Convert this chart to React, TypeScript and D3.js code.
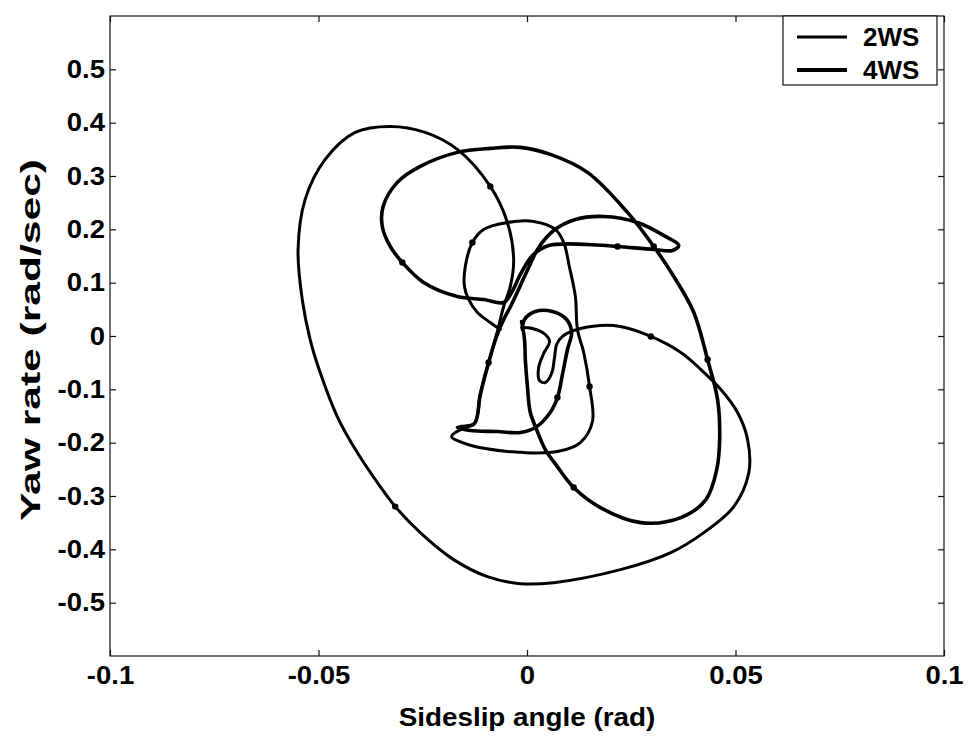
import React, { useEffect, useRef } from 'react';
import * as d3 from 'd3';

// sideslip angle (rad) / yaw rate (rad/sec)
const beta2WS = [
  -0.0013, 0.0013, 0.0044, 0.0054, 0.004, 0.0028, 0.003, 0.0044, 0.0059, 0.0066,
  0.0071, 0.0085, 0.0112,
  0.0176, 0.0224, 0.0297, 0.0369, 0.0417, 0.0465, 0.0505, 0.0529, 0.0532, 0.0496,
  0.0424, 0.0345, 0.0224, 0.0064, -0.0016, -0.0095, -0.0176, -0.0256, -0.0316, -0.0352,
  -0.0407, -0.0455, -0.0496, -0.052, -0.0539, -0.0549, -0.0532, -0.0484, -0.0412, -0.0328,
  -0.0244, -0.0167, -0.0088, -0.0047, -0.0032, -0.004, -0.0056, -0.0073, -0.0092, -0.0112,
  -0.0126, -0.0155, -0.0181, -0.0148, -0.01, -0.0008, 0.0073, 0.0128, 0.0157, 0.015,
  0.0136, 0.0121, 0.0116, 0.0102, 0.0088, 0.0068, 0.0016, -0.0047, -0.0104, -0.0131,
  -0.0148, -0.015, -0.014, -0.0119, -0.0088, -0.0064
];
const yaw2WS = [
  0.0159, 0.0141, 0.0028, -0.0103, -0.0328, -0.0591, -0.0835, -0.0872, -0.0704, -0.0403,
  -0.0159, -0.0009, 0.0103,
  0.0197, 0.0178, -0.0009, -0.031, -0.0629, -0.1004, -0.1435, -0.1942, -0.2561, -0.3199,
  -0.3687, -0.4062, -0.4381, -0.4625, -0.4644, -0.4512, -0.4193, -0.3687, -0.3199, -0.2824,
  -0.2186, -0.151, -0.0685, -0.0066, 0.0685, 0.1623, 0.2561, 0.3311, 0.3818, 0.393,
  0.3818, 0.3499, 0.2805, 0.2129, 0.1435, 0.0929, 0.0553, 0.0028, -0.0497, -0.1097,
  -0.1642, -0.1735, -0.1886, -0.2017, -0.2111, -0.2186, -0.2167, -0.1998, -0.1604, -0.0947,
  -0.031, 0.0122, 0.0741, 0.1285, 0.1754, 0.1998, 0.2148, 0.2129, 0.1998, 0.1754,
  0.1304, 0.0929, 0.0685, 0.0441, 0.0253, 0.0122
];
// samples of 2WS that carry the small direction markers
const marks2WS = [15, 31, 45, 51, 62, 72];

const beta4WS = [
  -0.0013, -0.0006, -0.0004, 0.0001, 0.0008, 0.0025, 0.0044, 0.0071, 0.0112, 0.0176,
  0.0273, 0.0369, 0.0429, 0.0455, 0.0462, 0.0457, 0.0433, 0.04, 0.0352, 0.0304,
  0.0241, 0.0145, 0.0056, -0.0016, -0.0088, -0.0167, -0.0256, -0.0311, -0.0345, -0.0347,
  -0.0328, -0.0299, -0.0248, -0.0167, -0.0104, -0.0056, -0.0037, -0.0016, 0.0013, 0.0052,
  0.0145, 0.0217, 0.0304, 0.0349, 0.0364, 0.0332, 0.0265, 0.0184, 0.0116, 0.0064,
  0.0028, 0.0004, -0.0018, -0.0037, -0.0056, -0.0073, -0.0092, -0.0112, -0.0126, -0.0157,
  -0.0167, -0.0136, -0.0071, -0.0016, 0.002, 0.0054, 0.0073, 0.0085, 0.0097, 0.0107,
  0.0095, 0.0061, 0.002, -0.0006, -0.0011
];
const yaw4WS = [
  0.0272, -0.0066, -0.0441, -0.0947, -0.1435, -0.1792, -0.2129, -0.243, -0.2842, -0.3218,
  -0.3499, -0.3405, -0.3068, -0.2505, -0.1942, -0.1191, -0.0441, 0.0441, 0.1116, 0.1679,
  0.2317, 0.3068, 0.3405, 0.3537, 0.3518, 0.3443, 0.318, 0.288, 0.243, 0.2054,
  0.1679, 0.1379, 0.1004, 0.0741, 0.0685, 0.0629, 0.0816, 0.1154, 0.151, 0.1698,
  0.1717, 0.1679, 0.1623, 0.1604, 0.1698, 0.1867, 0.2129, 0.2242, 0.2186, 0.1979,
  0.166, 0.1285, 0.091, 0.0591, 0.031, -0.0009, -0.0497, -0.1097, -0.1642, -0.1698,
  -0.1717, -0.1773, -0.1792, -0.1811, -0.1717, -0.1454, -0.1154, -0.0722, -0.0253, 0.0066,
  0.031, 0.046, 0.046, 0.031, 0.0122
];
const marks4WS = [8, 16, 19, 31, 41, 66];

const betaTicks = [-0.1, -0.05, 0, 0.05, 0.1];
const yawTicks = [-0.5, -0.4, -0.3, -0.2, -0.1, 0, 0.1, 0.2, 0.3, 0.4, 0.5];
const seriesNames = ['2WS', '4WS'];

const FONT = '"Liberation Sans", Arial, Helvetica, sans-serif';

// the scan is a bit wider than the font, stretch the glyphs to suit
function stretch(sel: any, k: number) {
  sel.each(function (this: SVGTextElement) {
    const len = this.getComputedTextLength();
    d3.select(this).attr('textLength', len * k).attr('lengthAdjust', 'spacingAndGlyphs');
  });
}

export default function App() {
  const ref = useRef<SVGSVGElement>(null);

  useEffect(() => {
    const svg = d3.select(ref.current);
    svg.selectAll('*').remove();

    const margin = { top: 16, right: 29, bottom: 81, left: 110 };
    const width = 973 - margin.left - margin.right;
    const height = 737 - margin.top - margin.bottom;

    const g = svg.append('g').attr('transform', `translate(${margin.left},${margin.top})`);

    const x = d3.scaleLinear().domain([-0.1, 0.1]).range([0, width]);
    const y = d3.scaleLinear().domain([-0.6, 0.6]).range([height, 0]);

    // axes, matlab style: ticks pointing inwards on all four sides
    const styleAxis = (sel: any) => {
      sel.select('.domain').remove();
      sel.selectAll('line').attr('stroke', '#111').attr('stroke-width', 1.2);
      sel.selectAll('text').attr('fill', '#000')
        .style('font-family', FONT).style('font-size', '25px').style('font-weight', 'bold')
        .call(stretch, 1.1);
    };
    g.append('g').attr('transform', `translate(0,${height})`)
      .call(d3.axisBottom(x).tickValues(betaTicks).tickSizeInner(-6).tickSizeOuter(0).tickPadding(10).tickFormat((d: any) => String(d)))
      .call(styleAxis);
    g.append('g')
      .call(d3.axisTop(x).tickValues(betaTicks).tickSizeInner(-6).tickSizeOuter(0).tickFormat(() => ''))
      .call(styleAxis);
    g.append('g')
      .call(d3.axisLeft(y).tickValues(yawTicks).tickSizeInner(-6).tickSizeOuter(0).tickPadding(5).tickFormat((d: any) => String(d)))
      .call(styleAxis);
    g.append('g').attr('transform', `translate(${width},0)`)
      .call(d3.axisRight(y).tickValues(yawTicks).tickSizeInner(-6).tickSizeOuter(0).tickFormat(() => ''))
      .call(styleAxis);

    g.append('rect')
      .attr('width', width).attr('height', height)
      .attr('fill', 'none').attr('stroke', '#111').attr('stroke-width', 1.2);

    const series = [
      { name: seriesNames[0], beta: beta2WS, yaw: yaw2WS, marks: marks2WS, w: 3 },
      { name: seriesNames[1], beta: beta4WS, yaw: yaw4WS, marks: marks4WS, w: 3.6 },
    ];

    series.forEach(s => {
      const line = d3.line<number>()
        .x((d, i) => x(s.beta[i]))
        .y(d => y(d))
        .curve(d3.curveCatmullRom.alpha(0.5));
      g.append('path')
        .datum(s.yaw)
        .attr('d', line)
        .attr('fill', 'none')
        .attr('stroke', '#000')
        .attr('stroke-width', s.w)
        .attr('stroke-linejoin', 'round')
        .attr('stroke-linecap', 'round');
      g.selectAll(null)
        .data(s.marks)
        .enter().append('circle')
        .attr('cx', i => x(s.beta[i]))
        .attr('cy', i => y(s.yaw[i]))
        .attr('r', 3.2)
        .attr('fill', '#000');
    });

    // axis titles
    svg.append('text')
      .attr('x', margin.left + width / 2).attr('y', 726)
      .attr('text-anchor', 'middle')
      .style('font-family', FONT).style('font-size', '26px').style('font-weight', 'bold')
      .text('Sideslip angle (rad)')
      .call(stretch, 1.07);
    svg.append('text')
      .attr('transform', `translate(40,${margin.top + height / 2 + 4}) rotate(-90)`)
      .attr('text-anchor', 'middle')
      .style('font-family', FONT).style('font-size', '27px').style('font-weight', 'bold')
      .text('Yaw rate (rad/sec)')
      .attr('textLength', 362).attr('lengthAdjust', 'spacingAndGlyphs');

    // legend
    const lg = g.append('g').attr('transform', `translate(${width - 161},0)`);
    lg.append('rect').attr('width', 154).attr('height', 69)
      .attr('fill', '#fff').attr('stroke', '#111').attr('stroke-width', 1.2);
    series.forEach((s, i) => {
      const ly = 21 + i * 33;
      lg.append('line').attr('x1', 14).attr('x2', 64).attr('y1', ly).attr('y2', ly)
        .attr('stroke', '#000').attr('stroke-width', i === 0 ? 2.8 : 4.2);
      lg.append('text').attr('x', 80).attr('y', ly + 9)
        .style('font-family', FONT).style('font-size', '26px').style('font-weight', 'bold')
        .text(s.name);
    });
  }, []);

  return (
    <svg
      ref={ref}
      width={973}
      height={737}
      style={{ position: 'absolute', left: 0, top: 0, background: '#fff' }}
    />
  );
}
